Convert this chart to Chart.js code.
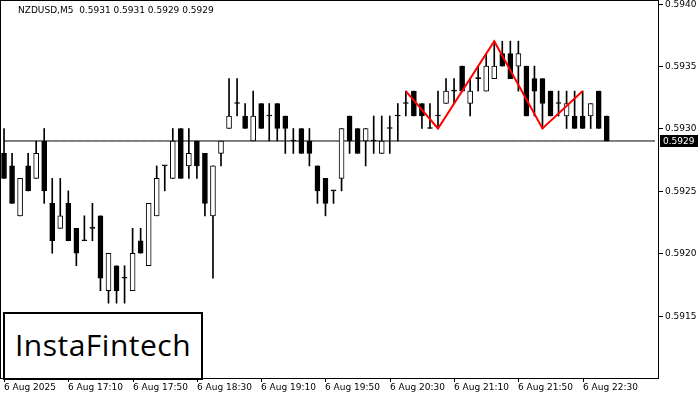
<!DOCTYPE html>
<html><head><meta charset="utf-8">
<script src="https://cdn.jsdelivr.net/npm/chart.js@4/dist/chart.umd.min.js"></script>
<style>
html,body{margin:0;padding:0;background:#fff;}
#wrap{position:relative;width:700px;height:400px;}
#logo{position:absolute;left:3px;top:312px;width:196px;height:64px;border:2px solid #000;background:#fff;
font-family:"Open Sans","DejaVu Sans",sans-serif;font-size:30px;line-height:62px;text-align:center;color:#000;letter-spacing:0.5px;}
</style></head><body>
<div id="wrap"><canvas id="c" width="700" height="400"></canvas><div id="logo">InstaFintech</div></div>
<script>
const title = "NZDUSD,M5  0.5931 0.5931 0.5929 0.5929";
const tickLabels = ["6 Aug 2025","6 Aug 17:10","6 Aug 17:50","6 Aug 18:30","6 Aug 19:10","6 Aug 19:50","6 Aug 20:30","6 Aug 21:10","6 Aug 21:50","6 Aug 22:30"];
const priceTicks = [0.5915,0.5920,0.5925,0.5930,0.5935,0.5940];
const opens  = [.5928,.5927,.5923,.5927,.5926,.5929,.5924,.5922,.5924,.5922,.5921,.5922,.5923,.5917,.5919,.5918,.5917,.5921,.5919,.5923,.5927,.5926,.5930,.5927,.5929,.5928,.5923,.5928,.5930,.5932,.5931,.5929,.5932,.5931,.5932,.5931,.5929,.5930,.5929,.5927,.5926,.5925,.5926,.5931,.5930,.5929,.5929,.5928,.5930,.5931,.5932,.5933,.5932,.5930,.5931,.5932,.5933,.5935,.5932,.5934,.5933,.5934,.5936,.5936,.5935,.5935,.5934,.5934,.5933,.5932,.5931,.5931,.5931,.5931,.5933,.5931];
const closes = [.5926,.5924,.5926,.5925,.5928,.5925,.5921,.5923,.5921,.5920,.5921,.5922,.5918,.5920,.5917,.5918,.5920,.5920,.5924,.5926,.5927,.5929,.5926,.5928,.5927,.5924,.5927,.5929,.5931,.5932,.5930,.5931,.5930,.5931,.5930,.5930,.5929,.5928,.5928,.5925,.5924,.5925,.5930,.5929,.5928,.5930,.5929,.5929,.5930,.5931,.5932,.5931,.5931,.5930,.5931,.5933,.5933,.5933,.5933,.5934,.5935,.5935,.5935,.5934,.5936,.5931,.5933,.5932,.5931,.5932,.5932,.5930,.5930,.5932,.5930,.5929];
const highs  = [.5930,.5928,.5926,.5928,.5929,.5930,.5926,.5926,.5925,.5922,.5923,.5924,.5923,.5920,.5919,.5919,.5922,.5922,.5924,.5927,.5927,.5930,.5930,.5930,.5929,.5928,.5927,.5929,.5934,.5934,.5932,.5933,.5932,.5932,.5932,.5931,.5930,.5930,.5930,.5927,.5926,.5925,.5930,.5931,.5930,.5930,.5931,.5931,.5931,.5932,.5933,.5933,.5932,.5932,.5933,.5934,.5934,.5935,.5934,.5935,.5936,.5937,.5937,.5937,.5937,.5935,.5935,.5934,.5933,.5933,.5933,.5933,.5933,.5932,.5933,.5931];
const lows   = [.5926,.5924,.5923,.5925,.5926,.5924,.5920,.5922,.5921,.5919,.5921,.5921,.5917,.5916,.5916,.5916,.5917,.5920,.5919,.5923,.5925,.5926,.5926,.5926,.5926,.5923,.5918,.5927,.5930,.5931,.5930,.5929,.5930,.5929,.5929,.5928,.5928,.5928,.5927,.5924,.5923,.5924,.5925,.5928,.5928,.5927,.5928,.5928,.5928,.5929,.5931,.5931,.5930,.5930,.5930,.5932,.5932,.5933,.5931,.5933,.5933,.5934,.5935,.5934,.5933,.5931,.5931,.5930,.5931,.5931,.5930,.5930,.5930,.5930,.5930,.5929];
const patternIdx = [50,54,61,67,72];
const patternVals = [.5933,.5930,.5937,.5930,.5933];
const lastPrice = 0.5929;
const slotCount = 82;

const labels = Array.from({length:slotCount},(_,i)=> (i%8===0 && i/8<tickLabels.length) ? tickLabels[i/8] : "");
const wick = lows.map((l,i)=>[l,highs[i]]);
const body = opens.map((o,i)=>[o,closes[i]]);
const pattern = labels.map(()=>null); patternIdx.forEach((k,j)=>pattern[k]=patternVals[j]);
const lastLine = labels.map(()=>lastPrice);
const F = '"DejaVu Sans"';

const extras = {
 id:'extras',
 afterDraw(ch){
  const c=ch.ctx, a=ch.chartArea, y=ch.scales.y, x=ch.scales.x;
  c.save();
  c.strokeStyle='#000';c.lineWidth=1;
  c.strokeRect(a.left+0.5,a.top+0.5,a.right-a.left-1,a.bottom-a.top);
  c.font='9px '+F;c.textBaseline='middle';c.textAlign='left';
  priceTicks.forEach(v=>{const p=Math.round(y.getPixelForValue(v));
    c.fillStyle='#000';c.fillRect(a.right,p,4,1);c.fillText(v.toFixed(4),a.right+6,p+0.5);});
  tickLabels.forEach((t,j)=>{const px=Math.round(x.getPixelForValue(j*8));
    c.fillRect(px,a.bottom,1,4);c.textBaseline='top';c.fillText(t,px,a.bottom+5);});
  const py=Math.round(y.getPixelForValue(lastPrice));
  c.fillStyle='#000';c.fillRect(a.right+1,py-6,38,12);
  c.fillStyle='#fff';c.textBaseline='middle';
  c.fillText(lastPrice.toFixed(4),a.right+4,py+0.5);
  c.fillStyle='#000';c.textBaseline='top';
  c.fillText(title,18,6);
  c.restore();
 }
};

new Chart(document.getElementById('c'),{
 data:{labels,datasets:[
  {type:'line',data:lastLine,borderColor:'#000',borderWidth:1,pointRadius:0,order:3},
  {type:'bar',data:wick,backgroundColor:'#000',barThickness:1,grouped:false,order:2},
  {type:'bar',data:body,backgroundColor:opens.map((o,i)=>closes[i]>o?'#fff':'#000'),borderColor:'#000',borderWidth:1,borderSkipped:false,barThickness:5,minBarLength:1,grouped:false,order:1},
  {type:'line',data:pattern,borderColor:'#ff0000',borderWidth:2,pointRadius:0,spanGaps:true,order:0}
 ]},
 options:{
  responsive:false,animation:false,
  layout:{padding:0},
  plugins:{legend:{display:false},tooltip:{enabled:false}},
  scales:{
   x:{type:'category',offset:true,grid:{display:false},border:{display:false},
      ticks:{display:false},
      afterFit(s){s.height=22;}},
   y:{position:'right',min:0.59100,max:0.59403,grid:{display:false},border:{display:false},
      ticks:{display:false},
      afterFit(s){s.width=41;}}
  }
 },
 plugins:[extras]
});
</script></body></html>
